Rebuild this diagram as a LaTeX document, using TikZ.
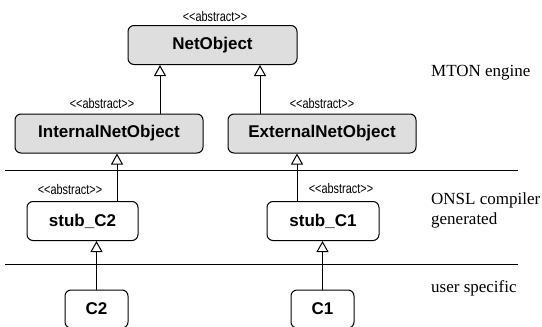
\documentclass[tikz,border=0pt]{standalone}
\usepackage{fontspec}
\setmainfont{Liberation Serif}
\setsansfont{Liberation Sans}
\usepackage{tikz}
\usetikzlibrary{arrows.meta, positioning, calc}
\definecolor{clsgray}{RGB}{222,222,222}
\newcommand{\abstr}{\scalebox{0.78}[1]{<\kern0pt<abstract>\kern0pt>}}
\tikzset{
  cls/.style={draw, line width=1pt, rounded corners=6pt, inner sep=0pt,
    font=\fontsize{17}{20}\selectfont\sffamily\bfseries, minimum height=39pt},
  abscls/.style={cls, fill=clsgray},
  stereo/.style={font=\fontsize{14}{16}\selectfont\sffamily, inner sep=0pt},
  layer/.style={font=\fontsize{17}{20}\selectfont, anchor=west, align=left, inner sep=0pt},
  inherit/.style={line width=1pt, -{Triangle[open, width=12pt, length=11pt]}},
  sep/.style={line width=1pt}
}

\begin{document}
\begin{tikzpicture}[x=1pt, y=1pt]
  \useasboundingbox (0,0) rectangle (542,-327);
  \clip (0,0) rectangle (542,-327);

  % --- MTON engine ---
  \node[abscls, minimum width=169pt] (net) at (212.5,-45) {NetObject};
  \node[stereo] (netst) at (215,-16) {\abstr};
  \node[abscls, minimum width=188pt] (intl) at (109,-133.5) {InternalNetObject};
  \node[stereo] (intlst) at (102,-103) {\abstr};
  \node[abscls, minimum width=188pt] (extl) at (322,-133.5) {ExternalNetObject};
  \node[stereo] (extlst) at (322,-103) {\abstr};

  % --- ONSL compiler generated ---
  \node[cls, minimum width=111pt] (stubtwo) at (82.5,-221) {stub\_C2};
  \node[stereo] (stubtwost) at (70,-189) {\abstr};
  \node[cls, minimum width=112pt] (stubone) at (323,-221) {stub\_C1};
  \node[stereo] (stubonest) at (341,-188) {\abstr};

  % --- user specific ---
  \node[cls, minimum width=63pt, minimum height=38pt] (ctwo) at (96.5,-309) {C2};
  \node[cls, minimum width=63pt, minimum height=38pt] (cone) at (322.5,-309) {C1};

  % Generalisations
  \draw[inherit] ([xshift=51pt]intl.north) -- ([xshift=51pt]intl.north |- net.south);
  \draw[inherit] ([xshift=-62pt]extl.north) -- ([xshift=-62pt]extl.north |- net.south);
  \draw[inherit] ([xshift=34.5pt]stubtwo.north) -- ([xshift=34.5pt]stubtwo.north |- intl.south);
  \draw[inherit] ([xshift=-26pt]stubone.north) -- ([xshift=-26pt]stubone.north |- extl.south);
  \draw[inherit] (ctwo.north) -- (ctwo.north |- stubtwo.south);
  \draw[inherit] (cone.north) -- (cone.north |- stubone.south);

  % Layers
  \draw[sep] (5,-170) -- (518,-170);
  \draw[sep] (5,-264) -- (518,-264);
  \node[layer] (mton) at (431,-73) {MTON engine};
  \node[layer] (onsl) at (431,-210) {ONSL compiler\\generated};
  \node[layer] (user) at (431,-288) {user specific};
\end{tikzpicture}
\end{document}
